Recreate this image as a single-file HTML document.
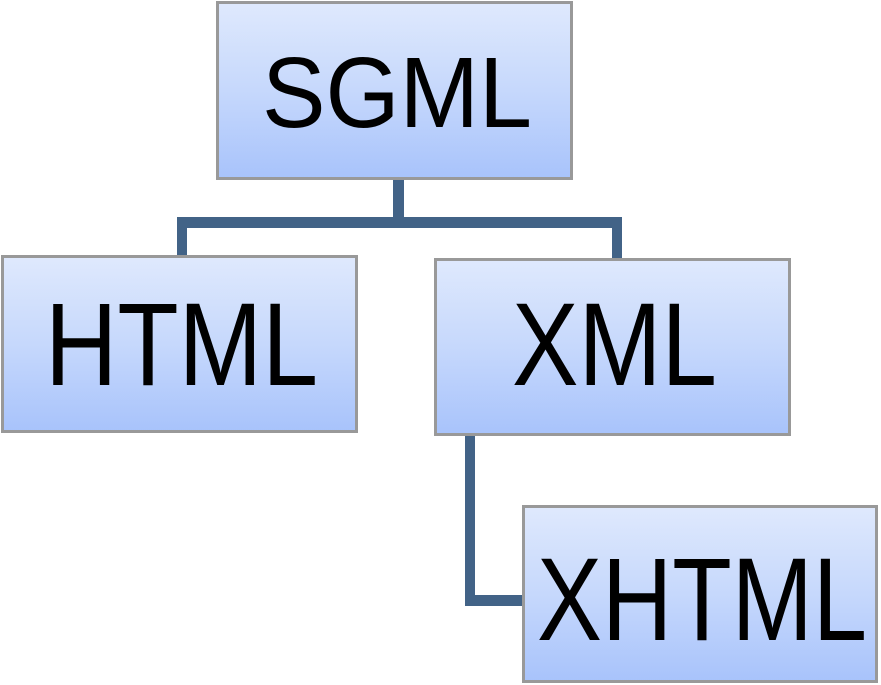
<!DOCTYPE html>
<html><head><meta charset="utf-8"><style>html,body{margin:0;padding:0;background:#fff}svg{display:block}</style></head>
<body>
<svg width="881" height="685" viewBox="0 0 881 685" xmlns="http://www.w3.org/2000/svg">
<defs>
<linearGradient id="g" x1="0" y1="0" x2="0" y2="1">
<stop offset="0" stop-color="#dfe9fd"/>
<stop offset="0.5" stop-color="#c6d8fc"/>
<stop offset="1" stop-color="#a8c3fb"/>
</linearGradient>
</defs>
<g fill="#426387">
<rect x="393" y="178" width="11" height="45"/>
<rect x="177" y="217" width="445" height="11"/>
<rect x="177" y="217" width="10" height="40"/>
<rect x="612" y="217" width="10" height="43"/>
<rect x="465" y="434" width="10" height="172"/>
<rect x="465" y="595" width="58" height="11"/>
</g>
<g fill="url(#g)" stroke="#999" stroke-width="3">
<rect x="217.5" y="2.5" width="354" height="176"/>
<rect x="2.5" y="256.5" width="354" height="175"/>
<rect x="435.5" y="259.5" width="354" height="175"/>
<rect x="523.5" y="506.5" width="353" height="175"/>
</g>
<g font-family="Liberation Sans, sans-serif" fill="#000">
<text x="262" y="127" font-size="100" textLength="270" lengthAdjust="spacingAndGlyphs">SGML</text>
<text x="45" y="385" font-size="118" textLength="273" lengthAdjust="spacingAndGlyphs">HTML</text>
<text x="512" y="385" font-size="118" textLength="205" lengthAdjust="spacingAndGlyphs">XML</text>
<text x="537" y="640" font-size="118" textLength="330" lengthAdjust="spacingAndGlyphs">XHTML</text>
</g>
</svg>
</body></html>
